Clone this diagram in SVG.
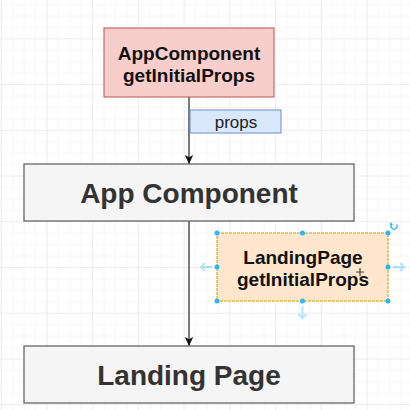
<svg xmlns="http://www.w3.org/2000/svg" width="410" height="410" viewBox="0 0 410 410">
<defs>
<pattern id="minor" x="1.7" y="5.1" width="11.43" height="11.43" patternUnits="userSpaceOnUse">
<path d="M11.43 0V11.43M0 11.43H11.43" fill="none" stroke="#eeeeee" stroke-width="1"/>
</pattern>
<pattern id="major" x="1.7" y="-6.4" width="45.72" height="45.72" patternUnits="userSpaceOnUse">
<path d="M45.72 0V45.72M0 45.72H45.72" fill="none" stroke="#e6e6e6" stroke-width="1"/>
</pattern>
<marker id="arr" markerWidth="10" markerHeight="10" refX="9" refY="5" orient="auto" markerUnits="userSpaceOnUse">
<path d="M0 0.8L9 5L0 9.2L2.2 5Z" fill="#111"/>
</marker>
<style>
.t{font-family:"Liberation Sans",Arial,sans-serif;font-weight:bold;text-anchor:middle}
.s{font-size:19px;fill:#111}
.b{font-size:28px;fill:#333}
.h{fill:#29b6f2}
.ha{stroke:#29b6f2;stroke-opacity:0.35;stroke-width:2;fill:none}
</style>
</defs>
<rect width="410" height="410" fill="#fff"/>
<rect width="410" height="410" fill="url(#minor)"/>
<rect width="410" height="410" fill="url(#major)"/>
<g id="connectors" stroke="#333" stroke-width="1.3" fill="none">
<path d="M189 97V164" marker-end="url(#arr)"/>
<path d="M189 221V346" marker-end="url(#arr)"/>
</g>
<g id="appGIP">
<rect x="104" y="28" width="170" height="69" fill="#f8cecc" stroke="#b85450" stroke-width="1"/>
<text class="t s" x="189" y="59.5">AppComponent</text>
<text class="t s" x="189" y="81.5">getInitialProps</text>
</g>
<g id="props">
<rect x="190" y="110" width="91" height="23" fill="#dae8fc" stroke="#6c8ebf" stroke-width="1"/>
<text x="236" y="127.5" font-family="Liberation Sans,Arial,sans-serif" font-size="17" fill="#222" text-anchor="middle">props</text>
</g>
<g id="appComponent">
<rect x="24" y="164" width="330" height="57" fill="#f5f5f5" stroke="#666" stroke-width="1.3"/>
<text class="t b" x="189" y="203">App Component</text>
</g>
<g id="landingGIP">
<rect x="217" y="233" width="171" height="68" fill="#ffe6cc" stroke="#d79b00" stroke-width="1" stroke-dasharray="3 1"/>
<text class="t s" x="303" y="264">LandingPage</text>
<text class="t s" x="303" y="286">getInitialProps</text>
<circle class="h" cx="217" cy="233" r="2.5"/>
<circle class="h" cx="302.5" cy="233" r="2.5"/>
<circle class="h" cx="388" cy="233" r="2.5"/>
<circle class="h" cx="217" cy="267" r="2.5"/>
<circle class="h" cx="388" cy="267" r="2.5"/>
<circle class="h" cx="217" cy="301" r="2.5"/>
<circle class="h" cx="302.5" cy="301" r="2.5"/>
<circle class="h" cx="388" cy="301" r="2.5"/>
<path class="ha" d="M212 267H201M205 263L201 267L205 271"/>
<path class="ha" d="M393 267H404M400 263L404 267L400 271"/>
<path class="ha" d="M302.5 306V318M298.5 314L302.5 318L306.5 314"/>
<path d="M396.5 224.5A3 3 0 1 1 392 224" fill="none" stroke="#29b6f2" stroke-width="1.2"/>
<path d="M390.5 222L393 224.5L390 225.5Z" fill="#29b6f2"/>
<path d="M360 268V276M356 272H364" stroke="#444" stroke-width="1.2"/>
</g>
<g id="landingPage">
<rect x="24" y="346" width="330" height="57" fill="#f5f5f5" stroke="#666" stroke-width="1.3"/>
<text class="t b" x="189" y="384.5">Landing Page</text>
</g>
</svg>
